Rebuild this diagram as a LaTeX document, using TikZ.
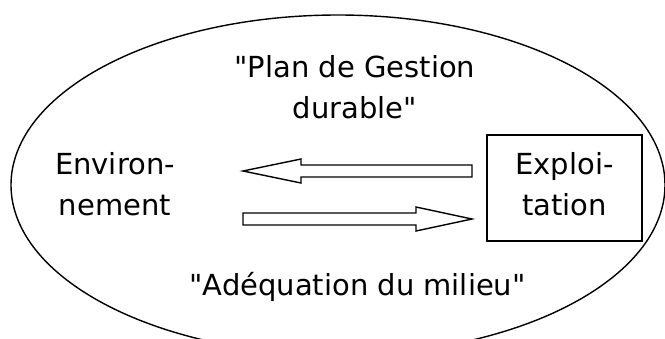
\documentclass[tikz,border=0pt]{standalone}
\usepackage{fontspec}
\setmainfont{DejaVu Sans}[Ligatures=TeXOff]
\begin{document}
\begin{tikzpicture}[x=1pt,y=-1pt,
  lbl/.style={font=\fontsize{29}{41}\selectfont, align=center, inner sep=0pt},
  outline/.style={draw=black, line width=1.4pt},
  blockarrow/.style={draw=black, line width=1.4pt, fill=white, line join=miter}]
\useasboundingbox (0,0) rectangle (665,338);
\clip (0,0) rectangle (665,338);
\fill[white] (0,0) rectangle (665,338);
\draw[outline] (338,185) ellipse [x radius=327, y radius=170];
\node[lbl, anchor=base] (plan) at (355,118) {"Plan de Gestion\\durable"};
\node[lbl, anchor=base] (env) at (115,215) {Environ-\\nement};
\node[lbl, anchor=base] (adeq) at (357.5,295) {"Adéquation du milieu"};
\node[outline, lbl, text depth=8pt, minimum width=155pt, minimum height=106pt] (expl) at (564.5,188) {Exploi-\\tation};
\draw[blockarrow] (243,171) -- (301,159) -- (301,165) -- (472,165) -- (472,177) -- (301,177) -- (301,183) -- cycle;
\draw[blockarrow] (472,219) -- (416,207) -- (416,213) -- (243,213) -- (243,225) -- (416,225) -- (416,231) -- cycle;
\end{tikzpicture}
\end{document}
